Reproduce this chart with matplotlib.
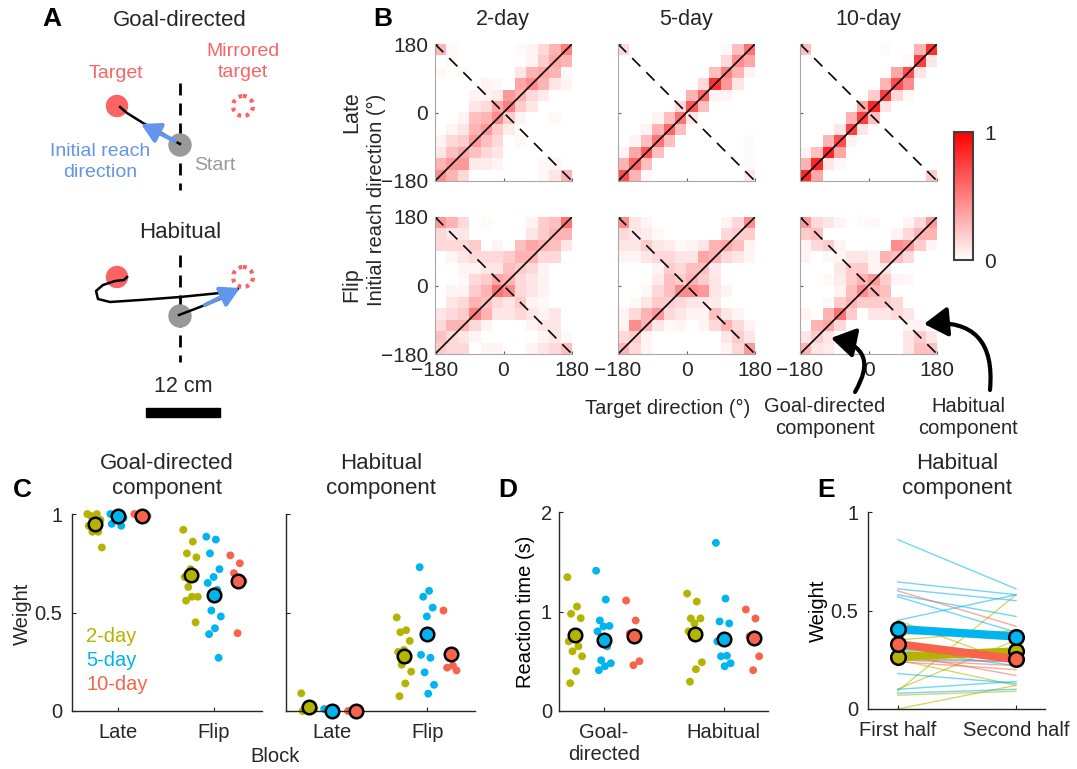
import numpy as np
import matplotlib
matplotlib.use('Agg')
import matplotlib.pyplot as plt
from matplotlib.colors import LinearSegmentedColormap
from matplotlib.patches import Circle, Rectangle, FancyArrowPatch

plt.rcParams['font.family'] = ['Liberation Sans', 'DejaVu Sans']
plt.rcParams['font.size'] = 14.5
plt.rcParams['text.color'] = '#262626'

# ---------------- data ----------------
groups = ['2-day', '5-day', '10-day']
group_colors = ['#b3b300', '#00b4f0', '#f7644b']

# Panel B: 12x12 histograms, rows top (reach 180) -> bottom (reach -180),
# columns left (target -180) -> right (target 180)
late_2day = [
    [.30, .03, 0, 0, 0, 0, 0, .03, .05, .15, .30, .50],
    [0, .03, 0, 0, 0, 0, 0, 0, .05, .20, .35, .30],
    [.03, 0, .03, 0, 0, 0, 0, .10, .30, .35, .30, .03],
    [0, 0, 0, 0, .05, .03, 0, .35, .45, .30, .10, .05],
    [0, 0, 0, .05, .05, .08, .40, .30, .15, .08, 0, 0],
    [0, 0, 0, .10, .15, .35, .50, .20, .10, 0, 0, 0],
    [0, 0, .05, .25, .30, .45, .20, .05, 0, 0, .03, 0],
    [0, .05, .10, .30, .40, .20, .08, 0, 0, 0, 0, 0],
    [.05, .15, .20, .40, .25, .15, 0, .03, 0, 0, 0, 0],
    [.10, .25, .35, .25, .15, .10, 0, 0, 0, 0, 0, 0],
    [.30, .40, .40, .08, .08, .05, 0, 0, 0, .03, .05, 0],
    [.45, .30, .15, 0, 0, 0, 0, 0, 0, .03, .10, .30],
]
late_5day = [
    [.15, 0, 0, 0, 0, 0, 0, 0, 0, .03, .25, .55],
    [0, 0, 0, 0, 0, 0, 0, 0, 0, .15, .45, .35],
    [0, 0, 0, 0, 0, 0, 0, 0, .25, .50, .30, .05],
    [0, 0, 0, 0, 0, 0, 0, .15, .80, .40, .10, 0],
    [0, 0, 0, 0, 0, 0, .30, .60, .05, .05, 0, 0],
    [0, 0, 0, 0, 0, .15, .65, .25, 0, 0, 0, 0],
    [0, 0, 0, .05, .25, .55, .10, 0, 0, 0, 0, 0],
    [0, 0, .05, .30, .60, .25, 0, 0, 0, 0, 0, 0],
    [0, .05, .25, .55, .25, 0, 0, 0, 0, 0, 0, .02],
    [.05, .35, .65, .25, 0, 0, 0, 0, 0, 0, 0, .02],
    [.30, .60, .25, 0, 0, 0, 0, 0, 0, 0, 0, .02],
    [.70, .30, .03, 0, 0, 0, 0, 0, 0, 0, 0, .10],
]
late_10day = [
    [.25, 0, 0, 0, 0, 0, 0, .02, 0, 0, .30, .80],
    [0, 0, 0, 0, 0, 0, 0, 0, 0, .03, .75, .10],
    [0, 0, 0, 0, 0, 0, 0, 0, .35, .70, .10, 0],
    [0, 0, 0, 0, 0, 0, 0, .30, .70, .45, 0, 0],
    [0, 0, 0, 0, 0, 0, .20, .75, .15, .03, 0, 0],
    [0, 0, 0, 0, 0, .35, .85, .10, 0, 0, 0, 0],
    [0, 0, 0, 0, .30, .75, .25, 0, 0, 0, 0, 0],
    [0, 0, 0, .10, .75, .10, 0, 0, 0, 0, 0, 0],
    [0, 0, .30, .70, .05, 0, 0, 0, 0, 0, 0, 0],
    [.05, .25, .85, .35, 0, 0, 0, 0, 0, 0, 0, 0],
    [.30, .85, .10, .03, 0, 0, 0, 0, 0, 0, 0, 0],
    [.85, .35, 0, 0, 0, 0, 0, 0, 0, 0, 0, .20],
]
flip_2day = [
    [.40, .30, .15, 0, .02, 0, 0, 0, .05, .20, .25, .55],
    [.15, .10, .10, 0, 0, 0, 0, 0, .10, .20, .30, .30],
    [.15, .15, .15, .20, 0, .05, 0, .25, .35, .30, .25, .10],
    [0, .05, .10, .15, .15, .15, .20, .30, .30, .15, .15, 0],
    [0, 0, .05, .05, .10, .10, .25, .20, .15, .05, 0, 0],
    [0, 0, .03, .15, .20, .35, .30, .15, .10, .05, 0, 0],
    [0, .05, .05, .20, .30, .55, .45, .15, .10, .05, 0, 0],
    [0, .10, .15, .30, .25, .15, .10, .20, .05, .03, 0, 0],
    [.10, .15, .20, .50, .30, .10, .10, .15, .10, .05, .10, 0],
    [.15, .30, .30, .15, .05, 0, 0, 0, .05, .10, .10, 0],
    [.25, .15, .10, .05, 0, 0, 0, 0, 0, .05, .10, .03],
    [.20, .15, .15, 0, .05, .05, 0, 0, .05, .10, .15, .25],
]
flip_5day = [
    [.45, .10, .05, 0, 0, 0, 0, 0, 0, .05, .15, .45],
    [.15, .10, .08, .03, 0, 0, 0, 0, 0, .15, .20, .20],
    [.10, .10, .20, .10, .08, .03, .05, .10, .30, .35, .25, .05],
    [.05, .05, .10, .15, .15, .10, .10, .35, .30, .15, .10, .05],
    [0, 0, 0, .05, .20, .15, .25, .25, .08, 0, 0, 0],
    [0, 0, 0, .08, .25, .20, .30, .20, .10, 0, 0, 0],
    [0, 0, .03, .15, .25, .45, .45, .40, .10, .05, 0, 0],
    [0, .03, .10, .20, .20, .15, .10, .10, .08, 0, 0, 0],
    [.05, .15, .30, .40, .15, .10, .05, .05, .25, .10, .05, 0],
    [.05, .45, .30, .10, .03, .05, 0, .05, .15, .30, .15, .05],
    [.15, .20, .05, 0, 0, 0, 0, 0, 0, .10, .20, .10],
    [.30, .15, .05, 0, 0, 0, 0, 0, 0, .05, .15, .40],
]
flip_10day = [
    [.40, .15, .10, .05, 0, .02, .03, 0, 0, .05, .15, .40],
    [.20, .25, 0, 0, 0, 0, 0, 0, .05, .15, .30, .30],
    [.05, .15, .20, .05, 0, 0, 0, 0, .45, .40, .20, .05],
    [.05, 0, .03, .05, .10, .10, .05, .30, .25, .15, 0, 0],
    [0, 0, 0, .10, .20, .20, .05, .10, 0, 0, 0, 0],
    [0, 0, .03, .08, .20, .30, .40, .20, .05, .03, 0, 0],
    [0, 0, 0, .05, .25, .45, .30, .25, 0, 0, 0, 0],
    [0, 0, .03, .20, .30, .20, .20, .20, .15, 0, 0, 0],
    [.05, 0, .30, .55, .20, 0, .10, .10, .15, .10, 0, 0],
    [0, .30, .35, .15, 0, 0, 0, 0, 0, .05, .05, 0],
    [.10, .20, .10, 0, 0, 0, 0, 0, 0, .10, .20, .10],
    [.30, .10, .08, 0, 0, 0, 0, 0, 0, .10, .25, .25],
]

# Panel C: component weights per participant
goal_late = [[1.0, 1.0, 0.99, 0.97, 0.94, 0.94, 0.91, 0.91, 0.83],
             [1.0, 1.0, 0.99, 0.98, 0.97, 0.95, 0.94],
             [1.0, 1.0, 0.99, 0.99]]
goal_flip = [[0.92, 0.86, 0.80, 0.78, 0.72, 0.68, 0.67, 0.63, 0.58, 0.58, 0.56, 0.45],
             [0.885, 0.87, 0.80, 0.72, 0.68, 0.65, 0.615, 0.51, 0.48, 0.42, 0.39, 0.27],
             [0.79, 0.75, 0.70, 0.66, 0.395]]
goal_mean = [[0.95, 0.69], [0.99, 0.59], [0.99, 0.66]]
hab_late = [[0.09, 0.03, 0.015, 0.01, 0.0, 0.0],
            [0.01, 0.0, 0.0],
            [0.0, 0.0]]
hab_flip = [[0.475, 0.41, 0.40, 0.356, 0.31, 0.30, 0.26, 0.235, 0.20, 0.14, 0.075],
            [0.73, 0.61, 0.58, 0.525, 0.48, 0.285, 0.27, 0.196, 0.133, 0.088],
            [0.51, 0.23, 0.22, 0.206]]
hab_mean = [[0.02, 0.28], [0.0, 0.39], [0.0, 0.29]]

# Panel D: reaction times (s)
rt_goal = [[1.345, 1.05, 0.977, 0.933, 0.78, 0.70, 0.65, 0.60, 0.55, 0.40, 0.28],
           [1.41, 1.12, 0.91, 0.855, 0.85, 0.80, 0.65, 0.51, 0.48, 0.45, 0.41],
           [1.11, 0.91, 0.78, 0.50, 0.46]]
rt_hab = [[1.18, 1.10, 0.93, 0.93, 0.88, 0.80, 0.75, 0.75, 0.49, 0.42, 0.295],
          [1.69, 1.13, 0.90, 0.88, 0.75, 0.70, 0.555, 0.55, 0.48, 0.45],
          [1.02, 0.93, 0.75, 0.55, 0.41]]
rt_mean = [[0.76, 0.775], [0.71, 0.72], [0.75, 0.73]]

# Panel E: habitual weight, first vs second half
e_first = [[0.00, 0.07, 0.09, 0.10, 0.25, 0.30, 0.38, 0.40, 0.45, 0.33, 0.35],
           [0.86, 0.645, 0.61, 0.58, 0.57, 0.45, 0.30, 0.18, 0.10, 0.08, 0.25],
           [0.60, 0.28, 0.25, 0.24, 0.26]]
e_second = [[0.12, 0.09, 0.58, 0.35, 0.12, 0.29, 0.39, 0.38, 0.23, 0.26, 0.40],
            [0.61, 0.58, 0.55, 0.47, 0.39, 0.58, 0.22, 0.13, 0.14, 0.10, 0.24],
            [0.42, 0.17, 0.22, 0.20, 0.24]]
e_mean = [[0.266, 0.292], [0.406, 0.368], [0.329, 0.253]]

# ---------------- figure ----------------
W, H = 1077, 769
fig = plt.figure(figsize=(W / 100, H / 100), dpi=100)
dark = '#262626'


def pax(x0, y0, x1, y1):
    return fig.add_axes([x0 / W, 1 - y1 / H, (x1 - x0) / W, (y1 - y0) / H])


def style_axes(ax):
    for s in ['top', 'right']:
        ax.spines[s].set_visible(False)
    for s in ['bottom', 'left']:
        ax.spines[s].set_color(dark)
        ax.spines[s].set_linewidth(1.0)
    ax.tick_params(direction='in', length=3, color=dark, labelcolor=dark,
                   labelsize=14.5)


def jitter(n, width):
    i = np.arange(n)
    return ((i * 0.618) % 1 - 0.5) * width


# Panel B heatmaps
cmap = LinearSegmentedColormap.from_list('wr', ['#ffffff', '#ff0000'])
col_x = [(435, 572), (618, 755), (800, 937)]
row_y = [(44, 181), (217, 354)]
mats = [[late_2day, late_5day, late_10day], [flip_2day, flip_5day, flip_10day]]
im = None
for r in range(2):
    for c in range(3):
        ax = pax(col_x[c][0], row_y[r][0], col_x[c][1], row_y[r][1])
        im = ax.imshow(np.array(mats[r][c]), cmap=cmap, vmin=0, vmax=1,
                       extent=(-180, 180, -180, 180), origin='upper',
                       aspect='auto', interpolation='nearest')
        ax.plot([-180, 180], [-180, 180], color='k', lw=1.2)
        ax.plot([-180, 180], [180, -180], color='k', lw=1.2, ls=(0, (7, 5)))
        ax.set_xlim(-180, 180)
        ax.set_ylim(-180, 180)
        for s in ['top', 'right']:
            ax.spines[s].set_visible(False)
        for s in ['bottom', 'left']:
            ax.spines[s].set_color('#a8a8a8')
        ax.set_xticks([-180, 0, 180])
        ax.set_yticks([-180, 0, 180])
        ax.tick_params(direction='in', length=2.5, color='#606060',
                       labelcolor=dark, labelsize=15, pad=5)
        if c != 0:
            ax.set_yticklabels([])
        if r != 1:
            ax.set_xticklabels([])

cax = pax(954, 132, 973, 260)
cb = fig.colorbar(im, cax=cax, ticks=[0, 1])
cb.outline.set_edgecolor('#404040')
cb.outline.set_linewidth(1.5)
cax.tick_params(length=0, labelsize=15, labelcolor=dark, pad=8)

# Panel C
c_axes = [pax(72, 514, 262, 711), pax(286, 514, 475, 711)]
offs = [-0.24, 0.0, 0.25]
for k, (late, flip, means) in enumerate([(goal_late, goal_flip, goal_mean),
                                          (hab_late, hab_flip, hab_mean)]):
    ax = c_axes[k]
    style_axes(ax)
    for g in range(3):
        for pos, vals in [(1, late[g]), (2, flip[g])]:
            v = np.array(vals)
            ax.scatter(pos + offs[g] + jitter(len(v), 0.16), v, s=32,
                       color=group_colors[g], edgecolors='none', clip_on=False,
                       zorder=2)
        ax.scatter([1 + offs[g], 2 + offs[g]], means[g], s=95,
                   facecolor=group_colors[g], edgecolor='k', lw=1.8,
                   clip_on=False, zorder=3)
    ax.set_xlim(0.52, 2.5)
    ax.set_ylim(0, 1)
    ax.set_xticks([1, 2])
    ax.set_xticklabels(['Late', 'Flip'])
    ax.set_yticks([0, 0.5, 1])
    ax.tick_params(axis='x', pad=9)
    ax.tick_params(axis='y', pad=7)
    if k == 0:
        ax.set_yticklabels(['0', '0.5', '1'])
    else:
        ax.set_yticklabels([])

# Panel D
axd = pax(559, 512, 768, 711)
style_axes(axd)
for g in range(3):
    for pos, vals in [(1, rt_goal[g]), (2, rt_hab[g])]:
        v = np.array(vals)
        axd.scatter(pos + offs[g] + jitter(len(v), 0.13), v, s=32,
                    color=group_colors[g], edgecolors='none', clip_on=False,
                    zorder=2)
    axd.scatter([1 + offs[g], 2 + offs[g]], rt_mean[g], s=95,
                facecolor=group_colors[g], edgecolor='k', lw=1.8,
                clip_on=False, zorder=3)
axd.set_xlim(0.625, 2.37)
axd.set_ylim(0, 2)
axd.set_xticks([1, 2])
axd.set_xticklabels(['Goal-\ndirected', 'Habitual'], va='top', linespacing=1.2)
axd.set_yticks([0, 1, 2])
axd.tick_params(axis='x', pad=9)
axd.tick_params(axis='y', pad=5)
axd.set_ylabel('Reaction time (s)', fontsize=14.5, labelpad=4)

# Panel E
axe = pax(868, 512, 1045, 709)
style_axes(axe)
for g in range(3):
    for a, b in zip(e_first[g], e_second[g]):
        axe.plot([1, 2], [a, b], color=group_colors[g], lw=1, alpha=0.55,
                 zorder=1)
for g in [0, 1, 2]:
    axe.plot([1, 2], e_mean[g], color=group_colors[g], lw=6, zorder=2,
             solid_capstyle='butt')
for g in [0, 1, 2]:
    axe.scatter([1, 2], e_mean[g], s=110, facecolor=group_colors[g],
                edgecolor='k', lw=1.8, zorder=3, clip_on=False)
axe.set_xlim(0.75, 2.245)
axe.set_ylim(0, 1)
axe.set_xticks([1, 2])
axe.set_xticklabels(['First half', 'Second half'])
axe.set_yticks([0, 0.5, 1])
axe.set_yticklabels(['0', '0.5', '1'])
axe.tick_params(axis='x', pad=9)
axe.tick_params(axis='y', pad=7)
axe.set_ylabel('Weight', fontsize=14.5, labelpad=2)

# ---------------- overlay: schematic, labels, arrows ----------------
ov = fig.add_axes([0, 0, 1, 1])
ov.set_xlim(0, W)
ov.set_ylim(H, 0)
ov.axis('off')
ov.patch.set_alpha(0)


def txt(x, y, s, **kw):
    kw.setdefault('ha', 'center')
    kw.setdefault('va', 'center')
    ov.text(x, y, s, **kw)


tgt_red = '#fa6464'
reach_blue = '#6495ed'
start_gray = '#999999'

# Panel A schematic
for y0, y1 in [(83, 190), (255, 362)]:
    ov.plot([180, 180], [y0, y1], color='k', lw=2, ls=(0, (4.3, 2.9)))
for cy in [106, 277]:
    ov.add_patch(Circle((117, cy), 10.5, color=tgt_red, zorder=3))
    ov.add_patch(Circle((243, cy), 10, fill=False, edgecolor=tgt_red,
                        lw=3, ls=(0, (0.9, 1.1)), zorder=3))
for cy in [145, 316]:
    ov.add_patch(Circle((180, cy), 11, color=start_gray, zorder=3))

gd_path_x = [180, 173, 160, 143, 127, 120]
gd_path_y = [144, 140, 132, 123, 113, 107]
ov.plot(gd_path_x, gd_path_y, color='k', lw=1.8, zorder=4)
hb_path_x = [179, 200, 220, 238, 220, 180, 140, 110, 98, 96, 103, 115, 124, 127]
hb_path_y = [315, 307, 299, 289, 293, 297, 300, 302, 299, 291, 285, 281, 280, 277]
ov.plot(hb_path_x, hb_path_y, color='k', lw=1.8, zorder=4)

for p0, p1 in [((175, 141), (141, 124)), ((205, 305), (240, 288))]:
    ov.add_patch(FancyArrowPatch(p0, p1, arrowstyle='-|>,head_length=0.8,head_width=0.45',
                                 mutation_scale=14, lw=3, color=reach_blue,
                                 zorder=5, shrinkA=0, shrinkB=0))

ov.add_patch(Rectangle((146, 408), 74, 9, color='k'))
txt(183, 387, '12 cm', fontsize=15.5)
txt(180, 20, 'Goal-directed', fontsize=16)
txt(180, 233, 'Habitual', fontsize=16)
txt(116, 73, 'Target', color=tgt_red, fontsize=14)
txt(243, 62, 'Mirrored\ntarget', color=tgt_red, fontsize=14, linespacing=1.25)
txt(100, 162, 'Initial reach\ndirection', color=reach_blue, fontsize=14,
    linespacing=1.25)
txt(215, 165, 'Start', color=start_gray, fontsize=14)

# Panel letters
for x, y, s in [(52, 19, 'A'), (383, 19, 'B'), (22, 490, 'C'),
                (508, 490, 'D'), (826, 490, 'E')]:
    txt(x, y, s, fontsize=19, fontweight='bold', color='k')

# Panel B labels
for x, s in zip([503, 686, 868], groups):
    txt(x, 20, s, fontsize=15.5)
txt(352, 112, 'Late', rotation=90, fontsize=15.5)
txt(352, 285, 'Flip', rotation=90, fontsize=15.5)
txt(376, 200, 'Initial reach direction (°)', rotation=90, fontsize=14.5)
txt(668, 408, 'Target direction (°)', fontsize=14.5)
txt(825, 418, 'Goal-directed\ncomponent', fontsize=14.5, linespacing=1.2)
txt(968, 418, 'Habitual\ncomponent', fontsize=14.5, linespacing=1.2)

for pa, pb, rad in [((855, 392), (831, 338), 0.7),
                    ((990, 390), (924, 324), 0.6)]:
    ov.add_patch(FancyArrowPatch(pa, pb, connectionstyle='arc3,rad=%g' % rad,
                                 arrowstyle='-|>,head_length=0.8,head_width=0.5',
                                 mutation_scale=18, lw=3, color='k',
                                 shrinkA=0, shrinkB=0))

# Panel C/D/E labels
txt(167, 476, 'Goal-directed\ncomponent', fontsize=16, linespacing=1.2)
txt(381, 476, 'Habitual\ncomponent', fontsize=16, linespacing=1.2)
txt(957, 476, 'Habitual\ncomponent', fontsize=16, linespacing=1.2)
txt(22, 614, 'Weight', rotation=90, fontsize=14.5)
txt(275, 756, 'Block', fontsize=14.5)
for g in range(3):
    txt(86, 636 + 24 * g, groups[g], color=group_colors[g], fontsize=14.5,
        ha='left')

fig.savefig('out.png', dpi=100)
